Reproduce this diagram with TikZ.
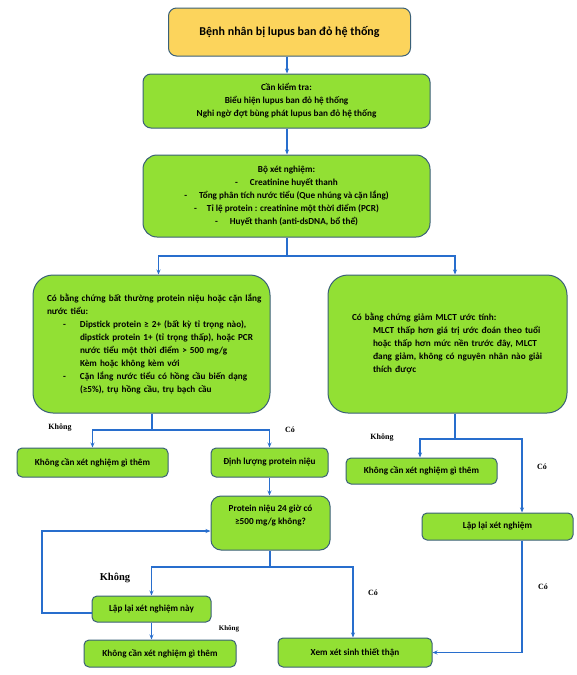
\documentclass[tikz,border=0pt]{standalone}
\usepackage{fontspec}
\setmainfont{Carlito}
\newfontfamily\lbl{Liberation Serif}
\usetikzlibrary{arrows.meta,calc}
\definecolor{boxgreen}{RGB}{146,224,52}
\definecolor{boxgold}{RGB}{252,212,92}
\definecolor{boxline}{RGB}{58,96,120}
\definecolor{arrblue}{RGB}{40,110,205}
\tikzset{
  gbox/.style={draw=boxline, line width=1pt, fill=boxgreen, rounded corners=5pt, inner sep=0pt,
    font=\fontsize{9.2}{13}\selectfont\bfseries, align=center},
  conn/.style={draw=arrblue, line width=1.5pt},
  arr/.style={conn, -{Stealth[length=5pt,width=4pt]}},
  yn/.style={font=\lbl\fontsize{8}{9}\selectfont\bfseries, inner sep=0pt},
}
\begin{document}
\begin{tikzpicture}[x=1pt,y=-1pt]
\useasboundingbox (0,0) rectangle (576,675);
% nodes
\node[gbox, fill=boxgold, rounded corners=8pt, minimum width=242pt, minimum height=48pt,
  font=\fontsize{12}{14}\selectfont\bfseries] (n1) at (289.5,32) {Bệnh nhân bị lupus ban đỏ hệ thống};
\node[gbox, rounded corners=8pt, minimum width=287pt, minimum height=54pt] (n2) at (286.5,101)
  {Cần kiểm tra:\\Biểu hiện lupus ban đỏ hệ thống\\Nghi ngờ đợt bùng phát lupus ban đỏ hệ thống};
\node[gbox, rounded corners=14pt, minimum width=287pt, minimum height=82pt] (n3) at (286.5,196)
  {Bộ xét nghiệm:\\
   -\hspace{12pt}Creatinine huyết thanh\\
   -\hspace{12pt}Tổng phân tích nước tiểu (Que nhúng và cặn lắng)\\
   -\hspace{10pt}Tỉ lệ protein : creatinine một thời điểm (PCR)\\
   -\hspace{12pt}Huyết thanh (anti-dsDNA, bổ thể)};
\node[gbox, rounded corners=20pt, minimum width=237pt, minimum height=138pt, text width=209pt, align=left] (nL) at (151.5,344)
  {\makebox[209pt][l]{Có bằng chứng bất thường protein niệu hoặc cặn lắng}\\
   nước tiểu:\\
   \makebox[33pt][l]{\hspace{16pt}-}Dipstick protein ≥ 2+ (bất kỳ tỉ trọng nào),\\
   \hspace*{33pt}dipstick protein 1+ (tỉ trọng thấp), hoặc PCR\\
   \hspace*{33pt}nước tiểu một thời điểm > 500 mg/g\\
   \hspace*{33pt}Kèm hoặc không kèm với\\
   \makebox[33pt][l]{\hspace{16pt}-}Cặn lắng nước tiểu có hồng cầu biến dạng\\
   \hspace*{33pt}(≥5\%), trụ hồng cầu, trụ bạch cầu};
\node[gbox, rounded corners=20pt, minimum width=239pt, minimum height=138pt, text width=191pt, align=left] (nR) at (447.5,344)
  {Có bằng chứng giảm MLCT ước tính:\\
   \hspace*{21pt}MLCT thấp hơn giá trị ước đoán theo tuổi\\
   \hspace*{21pt}hoặc thấp hơn mức nền trước đây, MLCT\\
   \hspace*{21pt}đang giảm, không có nguyên nhân nào giải\\
   \hspace*{21pt}thích được\\[20pt]};
\node[gbox, minimum width=151pt, minimum height=29pt] (nNo1) at (92.5,462.5) {Không cần xét nghiệm gì thêm};
\node[gbox, minimum width=117pt, minimum height=29pt] (nDL) at (269.5,462.5) {Định lượng protein niệu};
\node[gbox, rounded corners=10pt, minimum width=119pt, minimum height=54pt] (nP) at (270.5,523)
  {Protein niệu 24 giờ có\\≥500 mg/g không?\\[3pt]};
\node[gbox, minimum width=151pt, minimum height=26pt] (nRno) at (421.5,471) {Không cần xét nghiệm gì thêm};
\node[gbox, minimum width=151pt, minimum height=27pt] (nRep) at (497.5,526.5) {Lập lại xét nghiệm};
\node[gbox, minimum width=119pt, minimum height=26pt] (nLap) at (151.5,609) {Lập lại xét nghiệm này};
\node[gbox, minimum width=152pt, minimum height=27pt] (nNo2) at (160,653.5) {Không cần xét nghiệm gì thêm};
\node[gbox, minimum width=154pt, minimum height=29pt] (nBx) at (355,652.5) {Xem xét sinh thiết thận};
% junction coordinates
\coordinate (j1) at (287,256);
\coordinate (j2) at (152,430);
\coordinate (j3) at (455,439);
\coordinate (j4) at (270,567);
\coordinate (lp) at (42,531);
% connectors
\draw[arr] (n1.south -| 287,0) -- (n2.north -| 287,0);
\draw[arr] (n2.south -| 287,0) -- (n3.north -| 287,0);
\draw[conn] (n3.south -| j1) -- (j1);
\draw[arr] (j1) -| ($(nL.north)+(7,0)$);
\draw[arr] (j1) -| ($(nR.north)+(7.5,0)$);
\draw[conn] (nL.south -| j2) -- (j2);
\draw[arr] (j2) -| (nNo1.north);
\draw[arr] (j2) -| (nDL.north);
\draw[arr] (nDL.south) -- (nP.north -| nDL.south);
\draw[conn] (nR.south -| j3) -- (j3);
\draw[arr] (j3) -| ($(nRno.north)+(-1.5,0)$);
\draw[arr] (j3) -| ($(nRep.north)+(24.5,0)$);
\draw[arr] ($(nRep.south)+(24.5,0)$) |- (nBx.east);
\draw[conn] (nP.south -| j4) -- (j4);
\draw[arr] (j4) -| (nLap.north);
\draw[arr] (j4) -| ($(nBx.north)+(-2,0)$);
\draw[arr] ($(nLap.west)+(0,4)$) -| (lp) -- (lp -| nP.west);
\draw[arr] (nLap.south) -- (nLap.south |- nNo2.north);
% labels
\node[yn] (y1) at (60,428) {Không};
\node[yn] (y2) at (290,430) {Có};
\node[yn] (y3) at (382,438) {Không};
\node[yn] (y4) at (542,467) {Có};
\node[yn, font=\lbl\fontsize{10.5}{12}\selectfont\bfseries] (y5) at (115,578) {Không};
\node[yn, font=\lbl\fontsize{7}{8}\selectfont\bfseries] (y6) at (229,629) {Không};
\node[yn] (y7) at (373,593) {Có};
\node[yn] (y8) at (543,587) {Có};
\end{tikzpicture}
\end{document}
